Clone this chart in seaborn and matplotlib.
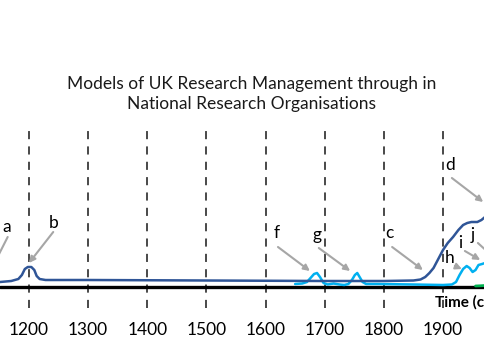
import pandas as pd
import matplotlib
matplotlib.use("Agg")
import matplotlib.pyplot as plt
import seaborn as sns

# --- data (years, height above time axis) ---
centuries = [1200, 1300, 1400, 1500, 1600, 1700, 1800, 1900]

dark_years = [1140, 1151, 1170, 1182, 1188, 1193, 1198, 1204, 1209, 1213, 1218, 1228,
              1300, 1500, 1700, 1800, 1850, 1862, 1870, 1877, 1884, 1892, 1900,
              1908, 1917, 1926, 1934, 1941, 1948, 1958, 1965, 1971, 1980]
dark_level = [4, 5, 6, 8, 12, 18, 20, 20, 17, 11, 8, 7,
              7, 6.5, 6, 6, 6.5, 7.5, 10, 14, 19, 28, 37,
              44, 50, 57, 62, 64, 65, 65, 67, 70, 74]

light_years = [1650, 1662, 1670, 1676, 1682, 1687, 1692, 1698, 1705, 1715, 1725, 1733,
               1740, 1746, 1751, 1755, 1759, 1764, 1770, 1790, 1850, 1900, 1915,
               1922, 1928, 1934, 1940, 1945, 1950, 1955, 1960, 1966, 1971, 1980]
light_level = [3, 3.5, 5, 9, 13, 14, 10, 4, 2.5, 3.5, 2.5, 2,
               3, 7, 12, 14, 10, 5, 3, 3, 2.5, 2, 2.5,
               5, 12, 18, 21, 19, 15, 17, 22, 23, 24, 26]

green_years = [1955, 1963, 1971, 1980]
green_level = [1, 1.2, 1.5, 2]

labels = ["a", "b", "f", "g", "c", "h", "i", "j", "d"]
label_pos = [(1163, 60), (1241, 64), (1618, 54), (1687, 52), (1810, 54),
             (1912, 29), (1929, 44), (1951, 52), (1912, 122)]
arrow_tail = [(1164, 50), (1241, 55), (1621, 40), (1690, 39), (1814, 40),
              (1920, 21), (1937, 36), (1959, 44), (1915, 109)]
arrow_tip = [(1140, 22), (1200, 24), (1675, 16), (1743, 16), (1866, 17),
             (1932, 18), (1963, 27), (1985, 30), (1968, 85)]

title = "Models of UK Research Management through in\nNational Research Organisations"

sns.set_theme(style="white")
plt.rcParams["font.family"] = ["Lato", "DejaVu Sans"]

fig = plt.figure(figsize=(4.85, 3.6), dpi=100)
ax = fig.add_axes([0, 0, 1, 1])

dark = pd.DataFrame({"year": dark_years, "level": dark_level})
light = pd.DataFrame({"year": light_years, "level": light_level})
green = pd.DataFrame({"year": green_years, "level": green_level})

# dashed century markers
ax.vlines(centuries, -21, 158, colors="#3a3a3a", linestyles=(0, (4.5, 4)), lw=1.3, zorder=1)
# time axis
ax.axhline(0, color="black", lw=2.4, zorder=2)

sns.lineplot(data=green, x="year", y="level", color="#00B050", lw=2, ax=ax, zorder=3)
sns.lineplot(data=light, x="year", y="level", color="#00B0F0", lw=1.8, ax=ax, zorder=4)
sns.lineplot(data=dark, x="year", y="level", color="#2F5597", lw=1.8, ax=ax, zorder=5)

for yr in centuries:
    ax.text(yr, -43, str(yr), ha="center", va="center", fontsize=12.5, color="black")

for lab, pos, tail, tip in zip(labels, label_pos, arrow_tail, arrow_tip):
    ax.text(pos[0], pos[1], lab, ha="center", va="center", fontsize=12.5, color="black")
    ax.annotate("", xy=tip, xytext=tail, annotation_clip=False,
                arrowprops=dict(arrowstyle="-|>", color="#A6A6A6", lw=1.5,
                                mutation_scale=9, shrinkA=0, shrinkB=0))

ax.text(1886, -15, "Time (century)", ha="left", va="center", fontsize=11,
        fontweight="bold", color="black")

ax.text(1576, 193, title, ha="center", va="center", fontsize=12.5,
        color="#1a1a1a", linespacing=1.25)

ax.set_xlim(1151, 1971)
ax.set_ylim(-73, 287)
ax.axis("off")

fig.savefig("out.png", dpi=100)
